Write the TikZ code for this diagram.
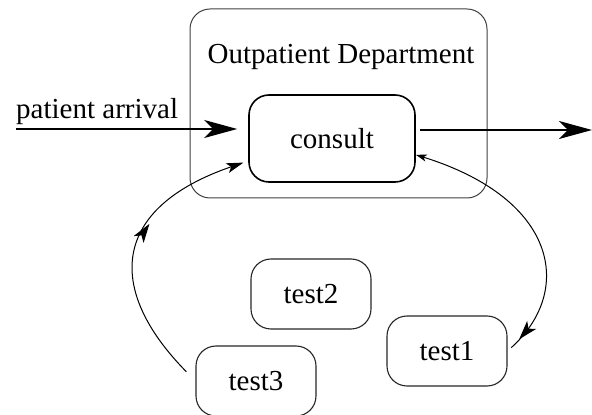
\documentclass[tikz,border=0pt]{standalone}
\usepackage{fontspec}
\setmainfont{Liberation Serif}
\usetikzlibrary{arrows.meta,decorations.markings}

\begin{document}
\begin{tikzpicture}[x=1pt, y=1pt, font=\fontsize{29}{34}\selectfont,
	unit/.style={draw=black!85, line width=1.1pt, rounded corners=20pt, minimum width=120pt, minimum height=70pt, inner sep=0pt},
	flow/.style={line width=1.4pt, arrows={-Stealth[length=33pt,width=18pt,inset=9pt]}},
	loop/.style={line width=1pt},
	midarrow/.style={postaction={decorate}, decoration={markings, mark=at position #1 with {\arrow{Stealth[length=19pt,width=12pt,inset=5pt]}}}}]
	\useasboundingbox (0,0) rectangle (592,415);
	% department and consult room
	\node[draw=black!75, line width=1pt, rounded corners=20pt, minimum width=297pt, minimum height=189pt] (opd) at (338.5,311.5) {};
	\node[anchor=base] (opdname) at (341,351) {Outpatient Department};
	\node[draw, line width=1.6pt, rounded corners=20pt, minimum width=166pt, minimum height=87pt] (consult) at (332,276.5) {consult};
	% tests
	\node[unit] (test2) at (311,121) {test2};
	\node[unit] (test1) at (447,64) {test1};
	\node[unit] (test3) at (256,34) {test3};
	% arrival and departure
	\coordinate (arrin) at (16,286);
	\node[anchor=base west, inner sep=0pt] (arrlabel) at (16,296) {patient arrival};
	\draw[flow, shorten >=11pt] (arrin) -- (arrin -| consult.west);
	\coordinate (arrout) at (592,285);
	\draw[flow, shorten <=4pt] (arrout -| consult.east) -- (arrout);
	% loops to the tests
	\draw[loop, midarrow=0.6, -{Stealth[length=17pt,width=10pt,inset=4pt]}, shorten <=13pt, shorten >=5pt] (test3.west) .. controls (105,126) and (111,207) .. (consult.195);
	\draw[loop, midarrow=0.94, {Stealth[length=11pt,width=7pt,inset=3pt]}-, shorten >=5pt] (consult.-11) .. controls (558,216) and (574,124) .. (test1.east);
\end{tikzpicture}
\end{document}
